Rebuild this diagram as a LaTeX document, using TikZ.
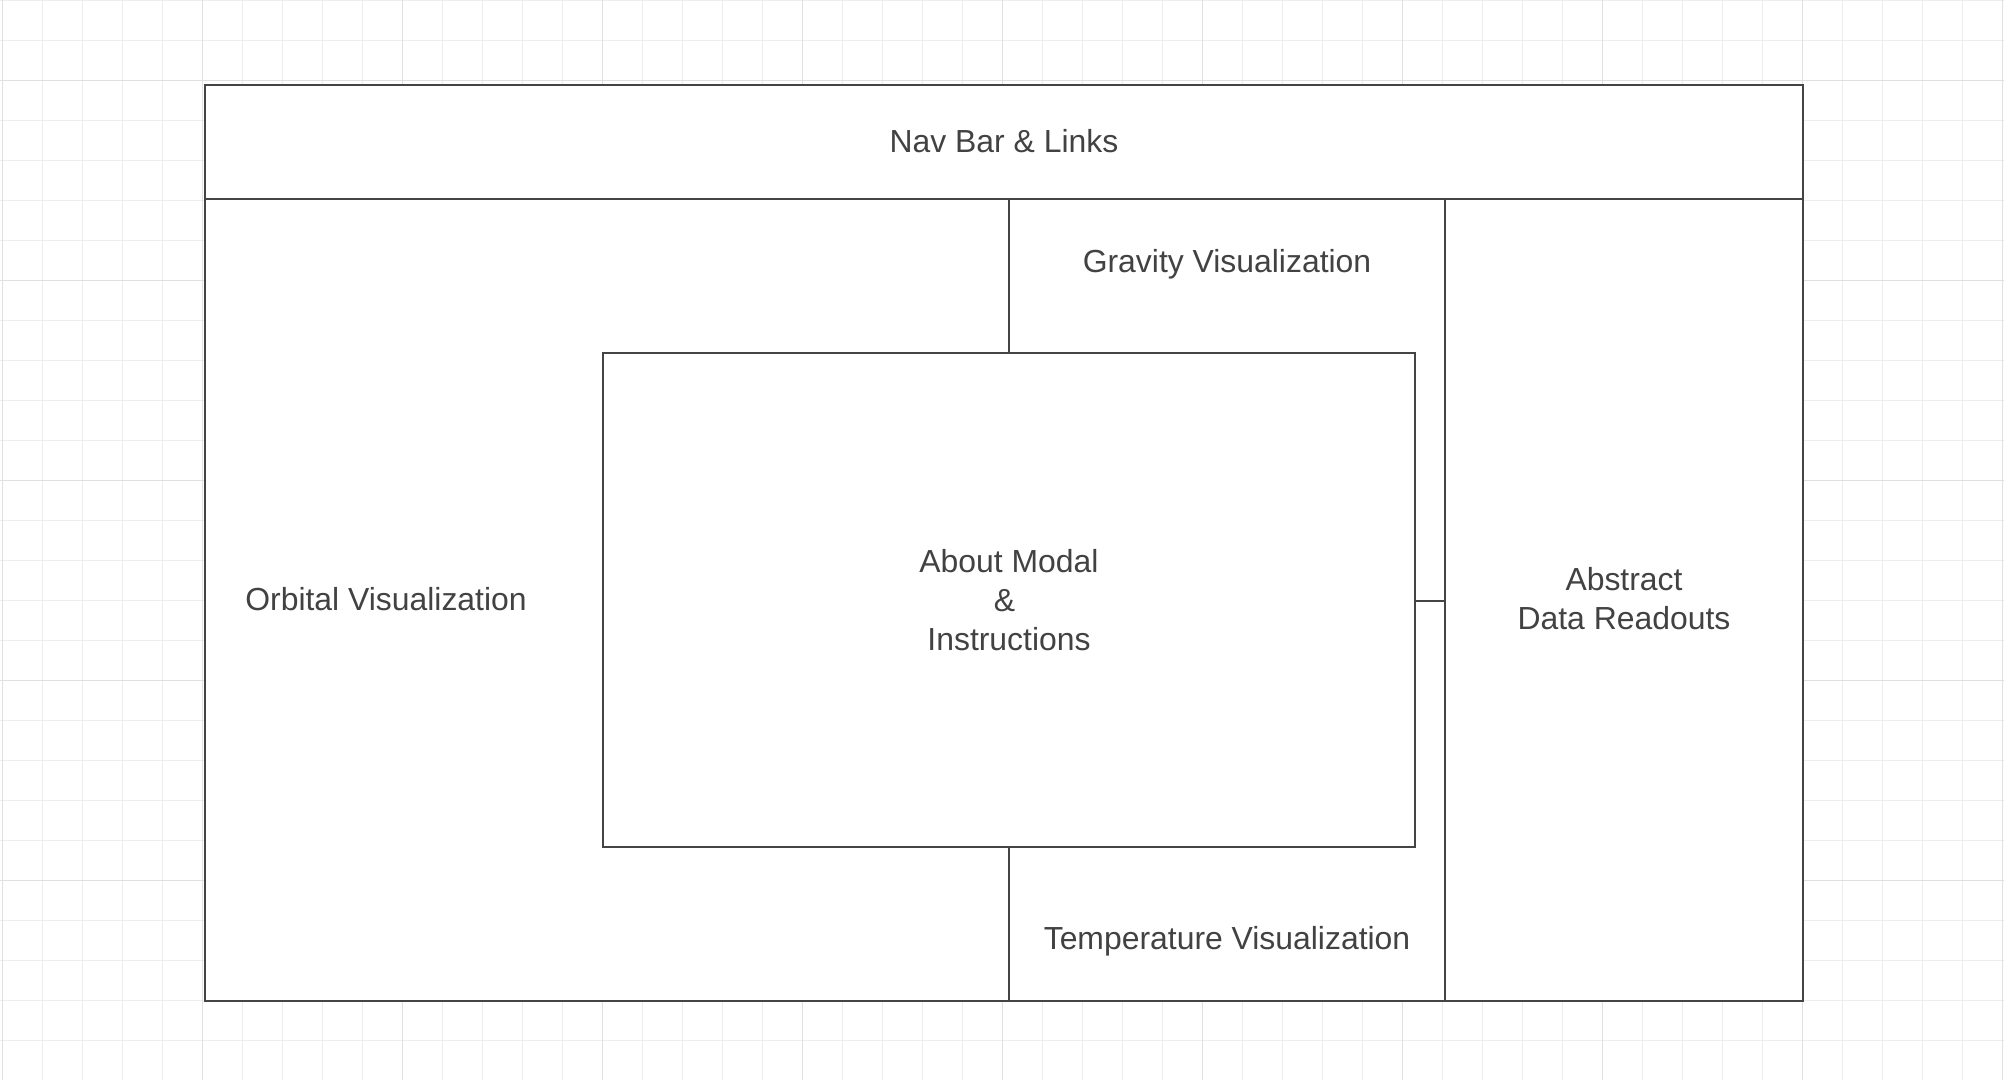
\documentclass[tikz,border=0pt]{standalone}
\usepackage{fontspec}
\setmainfont{Liberation Sans}
\definecolor{gridminor}{HTML}{EDEDED}
\definecolor{gridmajor}{HTML}{E0E0E0}
\definecolor{boxline}{HTML}{444444}
\definecolor{boxtext}{HTML}{424242}
\begin{document}
\begin{tikzpicture}[x=0.5pt,y=-0.5pt]
	\tikzset{panel/.style = {draw=boxline, line width=1pt, fill=white}}
	\tikzset{divider/.style = {draw=boxline, line width=1pt}}
	\tikzset{gridline/.style = {draw=gridminor, line width=0.65pt}}
	\tikzset{caption/.style = {text=boxtext, font=\fontsize{15.95}{19.5}\selectfont, align=center, anchor=base, inner sep=0pt}}
	\useasboundingbox (0,0) rectangle (2004,1080);
	\fill[white] (0,0) rectangle (2004,1080);
	% background grid
	\foreach \gx in {0,...,50} \draw[gridline] (2.7+40*\gx,0) -- (2.7+40*\gx,1080);
	\foreach \gy in {0,...,26} \draw[gridline] (0,0.7+40*\gy) -- (2004,0.7+40*\gy);
	\foreach \gx in {0,...,10} \draw[gridline, draw=gridmajor] (2.7+200*\gx,0) -- (2.7+200*\gx,1080);
	\foreach \gy in {0,...,4} \draw[gridline, draw=gridmajor] (0,80.7+200*\gy) -- (2004,80.7+200*\gy);
	% page layout
	\draw[panel] (205,85) rectangle (1803,1001);
	\draw[divider] (205,199) -- (1803,199);
	\draw[divider] (1009,199) -- (1009,1001);
	\draw[divider] (1445,199) -- (1445,1001);
	\draw[divider] (1009,601) -- (1445,601);
	% modal sits over the panels
	\draw[panel] (603,353) rectangle (1415,846.5);
	\node[caption] (nav) at (1004,153) {Nav Bar \& Links};
	\node[caption] (gravity) at (1227,272.7) {Gravity Visualization};
	\node[caption] (orbital) at (386,610.7) {Orbital Visualization};
	\node[caption] (modal) at (1009,650) {About Modal\\\&\rule{0.28em}{0pt}\\Instructions};
	\node[caption] (readouts) at (1624,630) {Abstract\\Data Readouts};
	\node[caption] (temperature) at (1227,949.3) {Temperature Visualization};
\end{tikzpicture}
\end{document}
